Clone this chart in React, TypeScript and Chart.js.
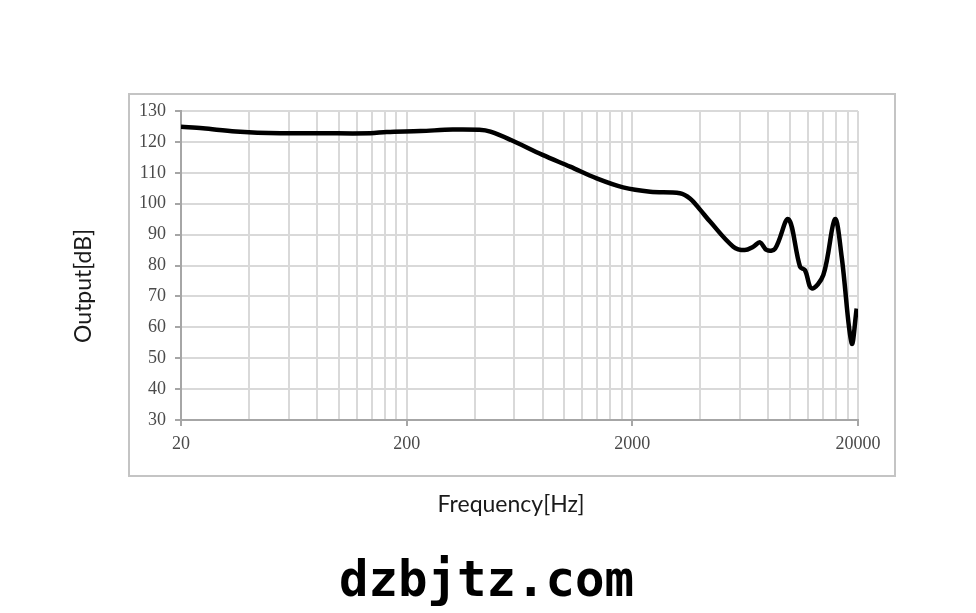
import React, { useEffect, useRef } from 'react';
import { Chart, registerables } from 'chart.js';

Chart.register(...registerables);

// Frequency response (Hz) and output level (dB)
const frequencies = [
  20, 25, 35, 55, 83, 138, 163, 230, 320, 420, 470, 580, 800, 1060, 1390, 1820,
  2400, 3250, 3600, 4000, 4420, 5600, 6300, 6870, 7360, 7880, 8580, 9820, 11070,
  11640, 12470, 14040, 15810, 16930, 18750, 19730,
];
const outputDb = [
  124.9, 124.4, 123.4, 122.8, 122.8, 122.8, 123.2, 123.5, 124.0, 123.9, 123.3, 120.6,
  115.8, 112.0, 108.2, 105.3, 103.9, 103.4, 101.7, 98.0, 94.2, 86.1, 85.0, 86.1, 87.5,
  85.0, 85.4, 95.0, 79.6, 78.5, 72.6, 76.9, 95.0, 82.8, 54.8, 66.1,
];

const xGridTicks = [
  20, 40, 60, 80, 100, 120, 140, 160, 180,
  200, 400, 600, 800, 1000, 1200, 1400, 1600, 1800,
  2000, 4000, 6000, 8000, 10000, 12000, 14000, 16000, 18000,
  20000,
];
const xLabelTicks = [20, 200, 2000, 20000];
const yMin = 30;
const yMax = 130;
const yStep = 10;

const xTitle = 'Frequency[Hz]';
const yTitle = 'Output[dB]';
const watermark = 'dzbjtz.com';

const GRID = '#d9d9d9';
const AXIS = '#a6a6a6';
const TICK_TEXT = '#4a4a4a';
const TITLE_FONT = "23px Lato, 'Open Sans', sans-serif";

const outerBoxPlugin = {
  id: 'outerBox',
  beforeDraw(chart: any) {
    const ctx = chart.ctx;
    ctx.save();
    ctx.fillStyle = '#ffffff';
    ctx.fillRect(0, 0, chart.width, chart.height);
    ctx.strokeStyle = '#c4c4c4';
    ctx.lineWidth = 2;
    ctx.strokeRect(129, 94, 766, 382);
    ctx.restore();
  },
};

const axisTitlePlugin = {
  id: 'axisTitles',
  afterDraw(chart: any) {
    const ctx = chart.ctx;
    ctx.save();
    ctx.fillStyle = '#1a1a1a';
    ctx.font = TITLE_FONT;
    ctx.textAlign = 'center';
    ctx.textBaseline = 'middle';
    ctx.fillText(xTitle, 511, 505);
    ctx.translate(84, 286);
    ctx.rotate(-Math.PI / 2);
    ctx.fillText(yTitle, 0, 0);
    ctx.restore();
  },
};

export default function App() {
  const canvasRef = useRef<HTMLCanvasElement | null>(null);

  useEffect(() => {
    if (!canvasRef.current) return;
    const padLeft = 60;
    const padBottom = 60;
    const chart = new Chart(canvasRef.current, {
      type: 'line',
      data: {
        datasets: [
          {
            data: frequencies.map((f, i) => ({ x: f, y: outputDb[i] })),
            borderColor: '#000000',
            borderWidth: 4.5,
            pointRadius: 0,
            tension: 0.35,
            fill: false,
          },
        ],
      },
      options: {
        animation: false,
        responsive: true,
        maintainAspectRatio: false,
        layout: { padding: { left: padLeft, right: 118, top: 111, bottom: padBottom } },
        plugins: { legend: { display: false }, tooltip: { enabled: false }, title: { display: false } },
        scales: {
          x: {
            type: 'logarithmic',
            min: 20,
            max: 20000,
            afterBuildTicks: (scale: any) => {
              scale.ticks = xGridTicks.map((v) => ({ value: v, major: xLabelTicks.includes(v) }));
            },
            afterFit: (scale: any) => {
              scale.height = 613 - padBottom - 420;
            },
            ticks: {
              autoSkip: false,
              maxRotation: 0,
              minRotation: 0,
              padding: 7,
              color: TICK_TEXT,
              font: { family: "'Liberation Serif', serif", size: 18 },
              callback: (v: any) => (xLabelTicks.includes(Number(v)) ? String(v) : ''),
            },
            grid: {
              color: GRID,
              lineWidth: 2,
              tickLength: 6,
              tickColor: (c: any) =>
                c.tick && xLabelTicks.includes(c.tick.value) ? AXIS : 'rgba(0,0,0,0)',
            },
            border: { color: AXIS, width: 2 },
            title: { display: false, text: xTitle },
          },
          y: {
            type: 'linear',
            min: yMin,
            max: yMax,
            afterFit: (scale: any) => {
              scale.width = 181 - padLeft;
            },
            ticks: {
              stepSize: yStep,
              padding: 9,
              color: TICK_TEXT,
              font: { family: "'Liberation Serif', serif", size: 18 },
            },
            grid: { color: GRID, lineWidth: 2, tickLength: 6, tickColor: AXIS },
            border: { color: AXIS, width: 2 },
            title: { display: false, text: yTitle },
          },
        },
      },
      plugins: [outerBoxPlugin, axisTitlePlugin],
    } as any);
    return () => chart.destroy();
  }, []);

  return (
    <div style={{ position: 'fixed', left: 0, top: 0, width: 976, height: 613, background: '#fff' }}>
      <canvas ref={canvasRef} />
      <div
        style={{
          position: 'absolute',
          left: 339,
          top: 556,
          fontFamily: "'DejaVu Sans Mono', monospace",
          fontWeight: 'bold',
          fontSize: 49,
          lineHeight: '48px',
          color: '#000',
          whiteSpace: 'nowrap',
        }}
      >
        {watermark}
      </div>
    </div>
  );
}
